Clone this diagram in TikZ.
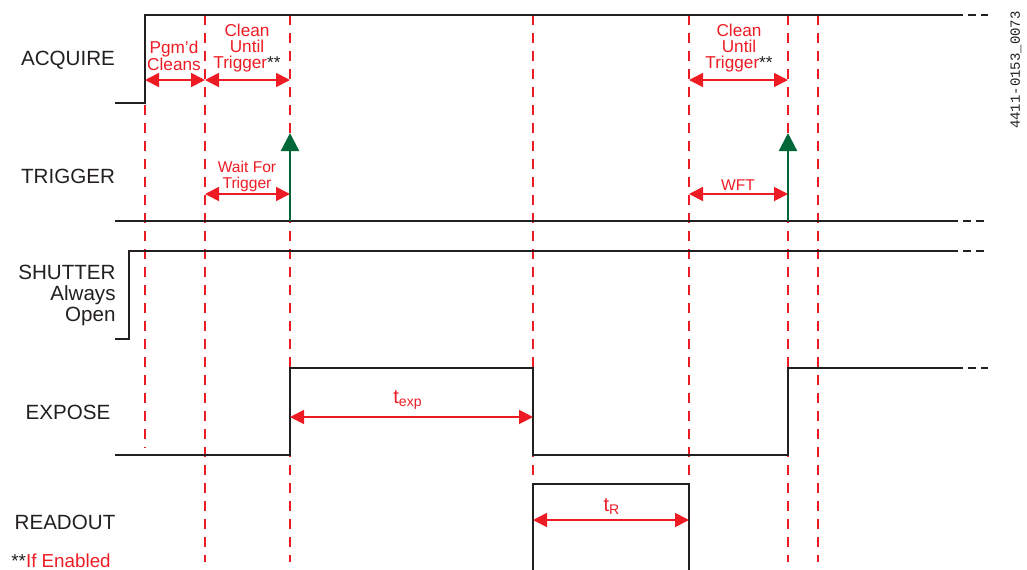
\documentclass[tikz,border=0pt]{standalone}
\usepackage{fontspec}
\setmainfont{Liberation Sans}
\newfontfamily\codefont{Liberation Mono}
\usetikzlibrary{arrows.meta}
\definecolor{sigRed}{RGB}{237,28,36}
\definecolor{trigGreen}{RGB}{0,104,56}
\definecolor{sigBlack}{RGB}{35,31,32}

\begin{document}
\begin{tikzpicture}[x=0.5pt, y=-0.5pt,
    sig/.style={draw=sigBlack, line width=1.1pt},
    tail/.style={draw=sigBlack, line width=0.6pt, dash pattern=on 4pt off 2.6pt},
    guide/.style={draw=sigRed, line width=0.6pt, dash pattern=on 5pt off 4pt},
    dim/.style={draw=sigRed, line width=0.9pt, {Triangle[length=7pt,width=7pt]}-{Triangle[length=7pt,width=7pt]}},
    trig/.style={draw=trigGreen, line width=1.1pt, -{Triangle[length=9pt,width=9pt]}},
    sigName/.style={font=\fontsize{10.3}{10.5}\selectfont, text=sigBlack, inner sep=0pt},
    redLab/.style={font=\fontsize{8.6}{7.8}\selectfont, text=sigRed, align=center, inner sep=0pt},
    smallLab/.style={font=\fontsize{7.8}{8}\selectfont, text=sigRed, align=center, inner sep=0pt}]
    \useasboundingbox (0,0) rectangle (1027,569);

    % time marks
    \foreach \n/\xx in {tA/145,tB/205,tC/290,tD/533,tE/689,tF/788,tG/818}
        \coordinate (\n) at (\xx,0);

    % red guide lines
    \draw[guide] (tA |- 0,15) -- (tA |- 0,448);
    \foreach \n in {tB,tC,tD,tE,tF,tG}
        \draw[guide] (\n |- 0,15) -- (\n |- 0,562);

    % signal names
    \node[sigName] (acq) at (68,60) {ACQUIRE};
    \node[sigName] (trg) at (68,176) {TRIGGER};
    \node[sigName, align=right, anchor=east] (shut) at (116,295) {SHUTTER\\Always\\Open};
    \node[sigName] (expo) at (68,412) {EXPOSE};
    \node[sigName] (rdo) at (65,522) {READOUT};

    % waveforms
    \draw[sig] (115,103) -- (tA |- 0,103) -- (tA |- 0,15) -- (955,15);
    \draw[tail] (955,15) -- (988,15);
    \draw[sig] (115,221) -- (950,221);
    \draw[tail] (950,221) -- (988,221);
    \draw[sig] (115,339) -- (129,339) -- (129,251) -- (950,251);
    \draw[tail] (950,251) -- (988,251);
    \draw[sig] (115,455) -- (tC |- 0,455) -- (tC |- 0,368) -- (tD |- 0,368) -- (tD |- 0,455)
        -- (tF |- 0,455) -- (tF |- 0,368) -- (955,368);
    \draw[tail] (955,368) -- (988,368);
    \draw[sig] (tD |- 0,570) -- (tD |- 0,484) -- (tE |- 0,484) -- (tE |- 0,570);

    % trigger pulses
    \draw[trig] (tC |- 0,221) -- (tC |- 0,133);
    \draw[trig] (tF |- 0,221) -- (tF |- 0,133);

    % timing intervals
    \draw[dim] (tA |- 0,80) -- (tB |- 0,80);
    \node[redLab, font=\fontsize{8.6}{8.5}\selectfont] (pgm) at (174,56) {Pgm'd\\Cleans};
    \draw[dim] (tB |- 0,80) -- (tC |- 0,80);
    \node[redLab] (cut1) at (247,48) {Clean\\Until\\Trigger\textcolor{sigBlack}{**}};
    \draw[dim] (tB |- 0,194) -- (tC |- 0,194);
    \node[smallLab] (wft1) at (247,176) {Wait For\\Trigger};
    \draw[dim] (tE |- 0,80) -- (tF |- 0,80);
    \node[redLab] (cut2) at (739,48) {Clean\\Until\\Trigger\textcolor{sigBlack}{**}};
    \draw[dim] (tE |- 0,194) -- (tF |- 0,194);
    \node[smallLab] (wft2) at (738,185) {WFT};
    \draw[dim] (tC |- 0,417) -- (tD |- 0,417);
    \node[text=sigRed, font=\fontsize{10}{10}\selectfont, inner sep=0pt] (texp) at (408,400) {t\textsubscript{exp}};
    \draw[dim] (tD |- 0,520) -- (tE |- 0,520);
    \node[text=sigRed, font=\fontsize{10}{10}\selectfont, inner sep=0pt] (tr) at (612,507) {t\textsubscript{R}};

    % footnote and figure code
    \node[anchor=west, font=\fontsize{9.4}{10}\selectfont, text=sigRed, inner sep=0pt] (note) at (11,561)
        {\textcolor{sigBlack}{**}If Enabled};
    \node[rotate=90, font=\codefont\fontsize{7}{7}\selectfont, text=sigBlack, inner sep=0pt] (code) at (1016,70)
        {4411-0153\_0073};
\end{tikzpicture}
\end{document}
